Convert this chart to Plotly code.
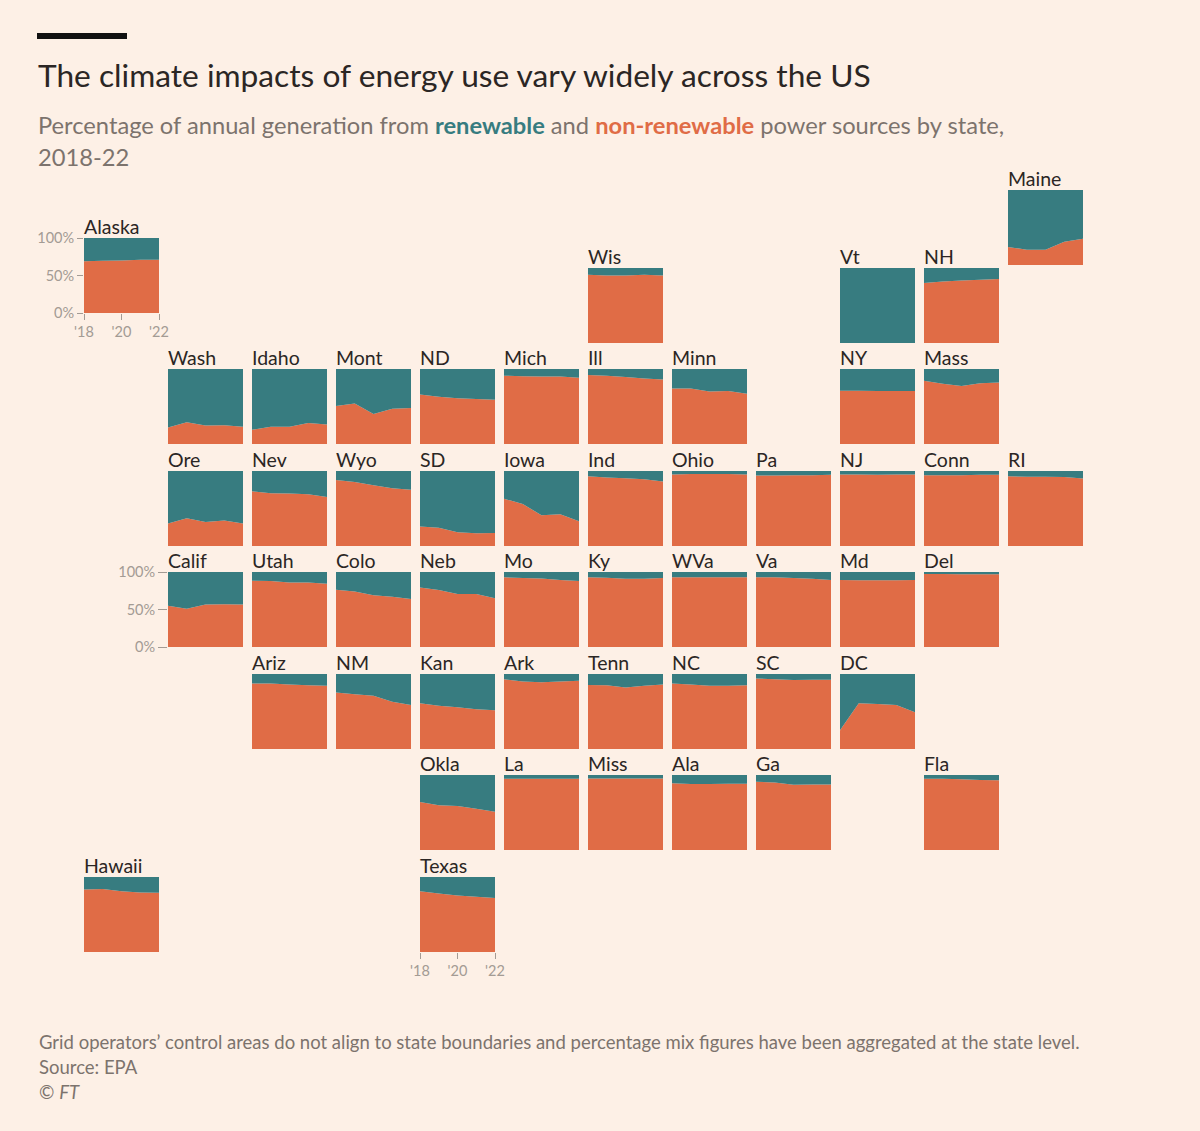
import plotly.graph_objects as go

W = 1200
H = 1131

bg = '#FDF0E6'
teal = '#377C80'
orange = '#E06C46'
ink = '#2B2624'
grey = '#7C736D'
tick_grey = '#A39B94'
font = 'Lato'

years = [2018, 2019, 2020, 2021, 2022]
year_ticks = [2018, 2020, 2022]
year_labels = ["'18", "'20", "'22"]
pct_ticks = [0, 50, 100]
pct_labels = ['0%', '50%', '100%']

# non-renewable share (%) per state
alaska = [69, 69.5, 70, 71, 71]
wis = [91, 90, 90, 91, 90]
vt = [0, 0, 0, 0, 0]
nh = [80, 82, 83.5, 84.5, 85.5]
maine = [24, 20.5, 20.5, 31, 35]
wash = [22, 29, 24.5, 25, 23]
idaho = [19, 23, 23, 28, 26]
mont = [50.5, 54, 40, 47, 48]
nd = [66, 63, 61, 60, 59]
mich = [91, 90.5, 90, 90, 88.5]
ill = [92, 91, 89.5, 87.5, 86]
minn = [74, 74, 70, 70.5, 67]
ny = [71, 71, 70.5, 70.5, 70.5]
mass = [84.5, 80.5, 77.5, 81, 82]
ore = [30, 37, 32, 34, 30]
nev = [73, 70.5, 70, 69, 65.5]
wyo = [88, 85.5, 81, 77, 75]
sd = [26, 24.5, 18.5, 17, 17.5]
iowa = [63, 56, 41, 42.5, 33]
ind = [93, 91.5, 90.5, 89, 86]
ohio = [95.5, 96, 96, 96, 95.5]
pa = [94, 94, 94.5, 94.5, 95]
nj = [95.5, 95.5, 95, 95.5, 95.5]
conn = [94.5, 94.5, 94.5, 95, 95]
ri = [93, 92.5, 92.5, 92, 90]
calif = [55, 51, 56.5, 57, 56.5]
utah = [88.5, 88, 86, 86, 84.5]
colo = [76.5, 74, 69, 67, 64]
neb = [79.5, 76, 70.5, 70.5, 65]
mo = [93, 92, 91.5, 89.5, 88]
ky = [93, 92.5, 91, 91, 92]
wva = [93, 93, 93, 93, 93]
va = [93, 93, 92, 91, 89.5]
md = [89.5, 89, 89, 89, 89.5]
dela = [97.5, 97.5, 97, 97, 97]
ariz = [87.5, 87.5, 86, 85, 84.5]
nm = [75.5, 73, 71, 63, 58.5]
kan = [61, 57.5, 55.5, 53, 51.5]
ark = [93, 90, 89, 90, 91]
tenn = [85.5, 85, 82, 84.5, 86]
nc = [87.5, 86, 84.5, 84.5, 85]
sc = [94, 93, 92, 92.5, 92.5]
dc = [25, 61, 60, 58.5, 49]
okla = [64, 59.5, 58.5, 55, 51]
la = [95, 95, 95, 95, 95]
miss = [95.5, 95.5, 95.5, 95.5, 95.5]
ala = [89, 88, 88, 88.5, 88.5]
ga = [91, 90, 87, 87.5, 87.5]
fla = [95, 95, 94.5, 93.5, 93]
hawaii = [83.5, 84, 81, 79.5, 79]
texas = [81, 78, 75.5, 73.5, 72]

# panel top-left corners in pixels
col = [84, 168, 252, 336, 420, 504, 588, 672, 756, 840, 924, 1008]
row = [268, 369, 471, 572, 674, 775, 877]
size = 75

panels = [
    ('Alaska', alaska, col[0], 238),
    ('Wis', wis, col[6], row[0]), ('Vt', vt, col[9], row[0]), ('NH', nh, col[10], row[0]),
    ('Maine', maine, col[11], 190),
    ('Wash', wash, col[1], row[1]), ('Idaho', idaho, col[2], row[1]), ('Mont', mont, col[3], row[1]),
    ('ND', nd, col[4], row[1]), ('Mich', mich, col[5], row[1]), ('Ill', ill, col[6], row[1]),
    ('Minn', minn, col[7], row[1]), ('NY', ny, col[9], row[1]), ('Mass', mass, col[10], row[1]),
    ('Ore', ore, col[1], row[2]), ('Nev', nev, col[2], row[2]), ('Wyo', wyo, col[3], row[2]),
    ('SD', sd, col[4], row[2]), ('Iowa', iowa, col[5], row[2]), ('Ind', ind, col[6], row[2]),
    ('Ohio', ohio, col[7], row[2]), ('Pa', pa, col[8], row[2]), ('NJ', nj, col[9], row[2]),
    ('Conn', conn, col[10], row[2]), ('RI', ri, col[11], row[2]),
    ('Calif', calif, col[1], row[3]), ('Utah', utah, col[2], row[3]), ('Colo', colo, col[3], row[3]),
    ('Neb', neb, col[4], row[3]), ('Mo', mo, col[5], row[3]), ('Ky', ky, col[6], row[3]),
    ('WVa', wva, col[7], row[3]), ('Va', va, col[8], row[3]), ('Md', md, col[9], row[3]),
    ('Del', dela, col[10], row[3]),
    ('Ariz', ariz, col[2], row[4]), ('NM', nm, col[3], row[4]), ('Kan', kan, col[4], row[4]),
    ('Ark', ark, col[5], row[4]), ('Tenn', tenn, col[6], row[4]), ('NC', nc, col[7], row[4]),
    ('SC', sc, col[8], row[4]), ('DC', dc, col[9], row[4]),
    ('Okla', okla, col[4], row[5]), ('La', la, col[5], row[5]), ('Miss', miss, col[6], row[5]),
    ('Ala', ala, col[7], row[5]), ('Ga', ga, col[8], row[5]), ('Fla', fla, col[10], row[5]),
    ('Hawaii', hawaii, col[0], row[6]), ('Texas', texas, col[4], row[6]),
]

y_tick_panels = {'Alaska': 6, 'Calif': 9}
x_tick_panels = ['Alaska', 'Texas']


def px(x):
    return x / W


def py(y):
    return 1 - y / H


def label(x, y, text, size_px, color, anchor='middle'):
    return dict(x=px(x), y=py(y), xref='paper', yref='paper', text=text, showarrow=False,
                xanchor='left', yanchor=anchor, align='left', xshift=-2,
                font=dict(family=font, size=size_px, color=color))


fig = go.Figure()
annotations = []
layout = {}

for i, (name, values, left, top) in enumerate(panels):
    n = '' if i == 0 else str(i + 1)
    renewable = [100 - v for v in values]
    fig.add_trace(go.Scatter(x=years, y=values, stackgroup='one', mode='none', fillcolor=orange,
                             xaxis='x' + n, yaxis='y' + n, hoverinfo='skip'))
    fig.add_trace(go.Scatter(x=years, y=renewable, stackgroup='one', mode='none', fillcolor=teal,
                             xaxis='x' + n, yaxis='y' + n, hoverinfo='skip'))
    xaxis = dict(domain=[px(left), px(left + size)], range=[2018, 2022], anchor='y' + n, automargin=False,
                 showgrid=False, zeroline=False, showticklabels=False, ticks='', fixedrange=True)
    yaxis = dict(domain=[py(top + size), py(top)], range=[0, 100], anchor='x' + n, automargin=False,
                 showgrid=False, zeroline=False, showticklabels=False, ticks='', fixedrange=True)
    if name in x_tick_panels:
        xaxis.update(showticklabels=True, ticks='outside', ticklen=6, tickcolor=tick_grey, tickwidth=1,
                     tickvals=year_ticks, ticktext=year_labels,
                     tickfont=dict(family=font, size=14.5, color=tick_grey))
    if name in y_tick_panels:
        yaxis.update(showticklabels=True, ticks='outside', ticklen=y_tick_panels[name], tickcolor=tick_grey,
                     tickwidth=1, tickvals=pct_ticks, ticktext=pct_labels,
                     tickfont=dict(family=font, size=14.5, color=tick_grey))
    layout['xaxis' + n] = xaxis
    layout['yaxis' + n] = yaxis
    annotations.append(label(left, top + 2, name, 19.5, ink, anchor='bottom'))

annotations.append(label(38, 75, 'The climate impacts of energy use vary widely across the US', 31.7, ink))
annotations.append(label(38, 125, 'Percentage of annual generation from '
                         f'<b><span style="color:{teal}">renewable</span></b> and '
                         f'<b><span style="color:{orange}">non-renewable</span></b> power sources by state,',
                         23.7, grey))
annotations.append(label(38, 157, '2018-22', 23.7, grey))
annotations.append(label(39, 1042, 'Grid operators\u2019 control areas do not align to state boundaries '
                         'and percentage mix figures have been aggregated at the state level.', 18.5, grey))
annotations.append(label(39, 1067, 'Source: EPA', 18.5, grey))
annotations.append(label(39, 1092, '\u00a9 <i>FT</i>', 18.5, grey))

fig.update_layout(
    width=W, height=H, margin=dict(l=0, r=0, t=0, b=0), showlegend=False,
    paper_bgcolor=bg, plot_bgcolor=bg, annotations=annotations,
    shapes=[dict(type='rect', xref='paper', yref='paper', x0=px(37), x1=px(127), y0=py(39), y1=py(33),
                 fillcolor='#111111', line_width=0)],
    **layout)

fig.write_html('out.html', config={'displayModeBar': False}, post_script="document.body.style.margin='0';")
